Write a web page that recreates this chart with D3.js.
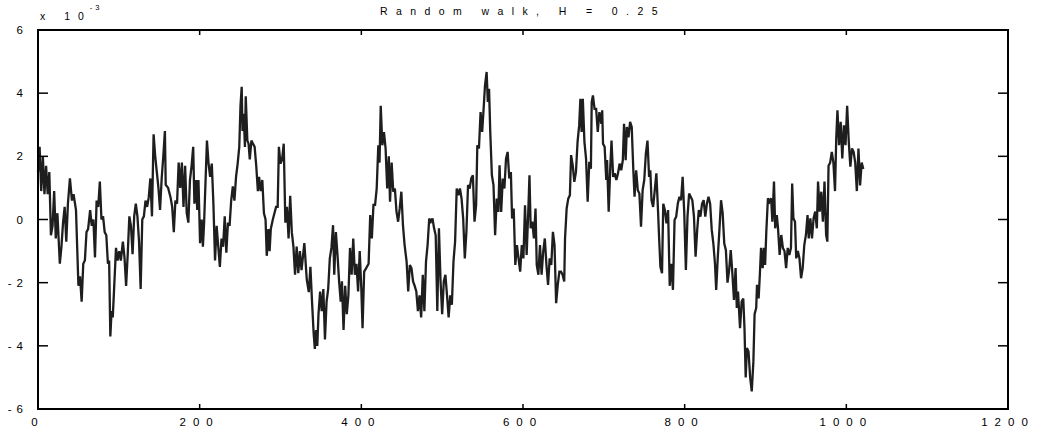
<!DOCTYPE html>
<html>
<head>
<meta charset="utf-8">
<script src="https://cdn.jsdelivr.net/npm/d3@7"></script>
<style>
  html, body { margin: 0; padding: 0; background: #fff; }
  text { font-family: "Liberation Sans", Arial, sans-serif; fill: #000; }
</style>
</head>
<body>
<div id="chart"></div>
<script>
// walk positions (step index) and values (x 10^-3)
const steps = [
  0, 2, 4, 6, 8, 10, 12, 14, 16, 18, 20, 22, 24, 27, 29, 31, 33, 35, 37, 39.5,
  42, 44, 47, 50, 52, 54, 56, 58, 60, 62, 64.5, 66.5, 68.5, 70.5, 72.5, 74.5, 76.5, 78.5, 80.5, 82.5,
  84.5, 86.5, 88, 89.5, 91, 92.5, 94.5, 96.5, 98.5, 100.5, 102.5, 105, 107, 109, 111, 113, 115, 117, 119, 121,
  123, 125, 127, 129, 131, 133, 135, 137, 139, 141, 143, 145, 147, 149, 151, 153, 155, 157, 158, 161,
  164, 166, 168, 170, 172, 174, 176, 178, 180, 182, 184, 186, 188, 190, 192, 193.5, 195.5, 197, 198.5, 200.5,
  202.5, 204, 205.5, 209, 211, 213, 215, 217, 219, 221, 223, 225, 227, 229, 231, 233, 235, 237, 239, 241,
  243, 245, 247, 249, 250.5, 252, 253, 254.5, 256, 257, 259, 260.5, 262, 264, 266, 268, 270, 272, 273.5, 275.5,
  277.5, 279.5, 281.5, 283, 285, 286.5, 288, 290.5, 292.5, 294.5, 296.5, 298, 300, 302, 304, 306, 308, 310, 312, 314,
  316, 318, 320, 322, 324, 326, 329.5, 332.5, 335, 337, 339, 341, 342.5, 344, 345.5, 347, 349, 351, 353, 355,
  357, 359, 361, 363, 365, 366.5, 368.5, 370.5, 372.5, 374.5, 376, 378, 380, 382, 384, 386, 388, 390, 392, 394,
  396, 398, 400, 401.5, 403.5, 406, 409, 411, 413, 415, 417, 419, 421, 422.5, 424, 426, 428, 430, 432, 434,
  435.5, 437.5, 439.5, 441.5, 443.5, 445.5, 447.5, 449.5, 451.5, 453.5, 456, 458, 460, 462, 464, 466, 468, 470, 472, 474,
  476, 478, 480, 482, 484, 486, 488, 490, 492, 494, 496, 498, 500, 502, 504, 506, 508, 510, 512, 514,
  516, 518, 520, 522, 524, 526, 528, 530, 532, 534, 536, 538, 540, 542, 543.5, 545.5, 547.5, 549.5, 551.5, 553,
  555, 556.5, 558, 559.5, 561.5, 563.5, 565.5, 567.5, 569.5, 571, 573, 575, 577, 579, 581, 583, 585, 586.5, 588.5, 590.5,
  592.5, 594.5, 596.5, 598.5, 600.5, 602.5, 604.5, 606.5, 608, 609.5, 611.5, 613.5, 615.5, 617, 619, 621, 623, 625, 627, 629,
  631, 633, 635, 637, 639, 641, 643, 645, 647, 649, 651, 652, 654, 656, 658, 659.5, 661.5, 663.5, 665.5, 667.5,
  669.5, 671, 672.5, 674, 676, 678, 680, 682, 684, 685, 686.5, 688.5, 690.5, 692.5, 694.5, 697, 698, 699, 701, 703,
  704, 706, 708, 709.5, 711.5, 713.5, 715.5, 717.5, 719.5, 721.5, 723.5, 725, 727, 728.5, 730.5, 732.5, 734.5, 736.5, 738, 740,
  742, 744, 746, 748, 750, 752, 754, 756, 757.5, 759, 761, 763, 765, 767, 768.5, 770, 772, 773.5, 775.5, 777.5,
  779.5, 781.5, 783.5, 785.5, 787.5, 789.5, 791.5, 793.5, 795.5, 797.5, 799.5, 801.5, 803.5, 805.5, 807.5, 809.5, 811.5, 813.5, 815.5, 817.5,
  819.5, 821.5, 823.5, 825.5, 827.5, 829.5, 831.5, 833.5, 835.5, 837.5, 839, 841, 843, 845, 847, 849, 851, 853, 855, 857,
  859, 861, 863, 864.5, 866, 868.5, 870.5, 872.5, 874, 875.5, 877, 879, 881, 883, 885, 886.5, 888.5, 889.5, 891.5, 893,
  894.5, 896.5, 898, 899.5, 901, 903, 905, 907, 908.5, 910.5, 912, 914, 915.5, 917.5, 919.5, 921.5, 923.5, 925.5, 927.5, 929.5,
  931.5, 933, 934.5, 936.5, 938, 940, 942, 944, 946, 948, 950, 952, 953.5, 955.5, 957.5, 959.5, 961.5, 963.5, 965, 967,
  969, 971, 973, 975, 976.5, 978, 980, 982, 984, 986, 987.5, 989, 991, 993, 995, 997, 999, 1001, 1003, 1005,
  1007, 1009, 1011, 1013, 1015, 1017, 1019, 1021
];
const walk = [
  1.5, 2.3, 0.9, 2.0, 0.8, 1.7, 0.8, 1.5, -0.5, -0.2, 0.9, -0.6, 0.2, -1.4, -0.86, -0.1, 0.4, -0.7, 0.5, 1.3,
  0.6, 0.8, 0.3, -2.1, -1.8, -2.6, -1.4, -1.3, -0.4, -0.3, 0.3, -0.2, 0, -1.2, 0.6, 0.4, 1.2, 0, 0.1, -0.4,
  -0.5, -1.4, -1.3, -3.7, -2.9, -3.1, -2.0, -0.9, -1.3, -1.0, -1.3, -0.7, -1.2, -2.1, -1.1, 0.1, -0.2, -1.1, 0.1, 0.5,
  0.1, -0.7, -2.2, 0, 0.1, 0.6, 0.4, 0.7, 1.3, 0.1, 2.7, 2.0, 1.5, 1.0, 0.3, 1.3, 2.0, 2.8, 1.1, 1.0,
  0.7, 0.4, -0.4, 0.6, 0.5, 1.8, 1.0, 1.8, 0.4, 1.7, 0.2, -0.1, 1.25, 1.7, 2.3, 0.5, 1.25, 0.3, 1.25, -0.75,
  0, -0.86, -0.1, 2.5, 1.77, 1.35, 1.77, 0.5, -1.3, -0.2, -0.86, -1.5, -0.6, -0.86, 0.1, -1.05, -0.1, -0.2, 0.6, 1.05,
  0.6, 1.35, 1.77, 2.3, 3.6, 4.2, 2.8, 3.35, 2.3, 3.9, 2.5, 2.4, 1.9, 2.5, 2.4, 2.3, 1.7, 0.9, 1.35, 0.9,
  1.25, 0.2, 0, -1.15, -0.3, -1.0, -0.3, 0, 0.2, 0.4, 0.4, 2.3, 1.77, 1.9, 2.4, -0.1, 0.4, -0.6, 0.75, -0.4,
  -0.86, -1.75, -0.86, -1.7, -1.0, -1.6, -0.75, -1.9, -2.3, -1.5, -2.6, -3.6, -4.1, -3.5, -4.0, -3.0, -2.28, -2.9, -2.2, -3.8,
  -2.6, -2.2, -1.23, -0.9, -0.18, -1.75, -0.4, -1.12, -1.96, -2.6, -1.96, -3.5, -2.1, -3.0, -2.4, -0.9, -1.75, -0.6, -1.75, -1.4,
  -2.28, -1.0, -2.2, -3.44, -1.65, -1.54, -1.4, 0.14, -0.6, 0.46, 0.46, 0.98, 2.35, 1.8, 3.6, 2.35, 2.77, 2.25, 0.98, 2.0,
  0.56, 1.8, 0.88, 0.98, 0.25, -0.07, 0.35, 0.88, -0.18, -0.8, -1.33, -2.28, -1.44, -1.54, -1.96, -2.1, -2.28, -2.9, -2.4, -3.1,
  -1.75, -2.9, -1.33, -0.8, 0.03, -0.07, 0.03, -0.28, -0.5, -2.9, -0.28, -1.96, -3.0, -1.96, -1.75, -2.4, -3.1, -2.4, -2.7, -1.33,
  -0.7, 0.98, 0.77, 0.98, 0.66, 0.03, -1.23, -0.39, 1.09, 0.98, 1.3, 1.4, -0.07, 0.45, 2.35, 2.25, 3.4, 2.77, 3.6, 4.25,
  4.67, 3.72, 4.14, 2.77, 1.4, 1.09, -0.5, 0.66, 0.24, 1.72, 0.24, 1.3, 0.98, 1.93, 2.14, 1.3, 1.5, 0.03, 0.35, -1.44,
  -0.81, -1.23, -1.65, -0.81, -1.23, 0.45, -1.12, 0.24, 1.4, -0.28, -0.07, -0.6, 0.35, -1.44, -1.75, -0.81, -1.75, -1.02, -0.6, -1.44,
  -2.07, -1.23, -1.44, -0.39, -0.81, -2.65, -2.07, -1.65, -1.65, -1.75, -1.96, -0.6, 0.35, 0.66, 0.77, 2.04, 1.72, 1.19, 1.5, 2.46,
  2.98, 3.82, 2.77, 3.82, 2.46, 1.93, 0.56, 1.83, 1.61, 3.72, 3.93, 3.5, 3.5, 2.77, 3.4, 3.03, 3.46, 2.4, 2.3, 1.25,
  1.88, 0.25, 1.67, 2.5, 1.35, 1.46, 1.25, 1.46, 1.77, 1.56, 1.88, 3.03, 1.88, 2.93, 2.6, 3.09, 2.93, 1.56, 0.72, 1.56,
  0.93, 0.82, -0.23, 0.93, 1.25, 2.09, 2.5, 1.35, 1.56, 0.61, 0.4, 0.93, 1.46, 0.3, -0.65, -1.5, -1.7, 0.5, 0.3, -0.12,
  0.3, -2.1, -1.4, -2.23, -0.02, 0.09, 0.5, 0.72, 0.61, 1.35, 0.2, -1.6, 0.09, 0.82, 0.72, 0.61, 0.09, -1.18, -0.33, 0.3,
  0.09, 0.5, 0.61, 0.09, 0.5, 0.72, 0.5, -0.33, -0.76, -1.4, -2.23, -1.18, -0.33, 0.61, 0.2, -0.76, -0.97, -2.0, -1.6, -0.97,
  -1.7, -2.55, -1.54, -2.8, -2.28, -3.44, -2.6, -2.5, -3.44, -5.0, -4.07, -4.18, -5.0, -5.44, -4.5, -3.0, -2.8, -2.07, -2.5, -1.75,
  -0.9, -1.54, -0.9, -1.44, -0.39, 0.67, 0.56, 0.67, -0.07, 1.2, -0.28, 0.14, -0.28, -1.12, -0.49, -0.9, -1.0, -1.54, -0.9, -1.12,
  -0.9, 1.14, 0.04, -0.07, -1.23, -1.0, -1.23, -1.86, -1.54, -0.8, -0.49, 0.14, -0.6, 0.04, -0.6, 0.04, 0.25, -0.28, 1.2, 0.25,
  0.88, -0.07, 1.2, -0.49, -0.7, 1.7, 1.8, 2.14, 1.8, 0.9, 2.56, 3.46, 2.35, 3.09, 1.93, 2.98, 2.35, 3.6, 2.46, 1.67,
  2.25, 2.14, 1.8, 0.9, 2.25, 1.08, 1.8, 1.6
];
const xTicks = [0, 200, 400, 600, 800, 1000, 1200];
const yTicks = [-6, -4, -2, 0, 2, 4, 6];
const title = 'Random walk, H = 0.25';

const width = 1042, height = 432;
const margin = { top: 30, right: 34, bottom: 23, left: 38 };

const svg = d3.select('#chart')
  .append('svg')
  .attr('width', width)
  .attr('height', height);

const x = d3.scaleLinear()
  .domain([0, 1200])
  .range([margin.left, width - margin.right]);
const y = d3.scaleLinear()
  .domain([-6, 6])
  .range([height - margin.bottom, margin.top]);

// the walk itself
const line = d3.line()
  .x(d => x(d[0]))
  .y(d => y(d[1]));

svg.append('path')
  .datum(d3.zip(steps, walk))
  .attr('d', line)
  .attr('fill', 'none')
  .attr('stroke', '#1e1e1e')
  .attr('stroke-width', 2.3)
  .attr('stroke-linejoin', 'miter')
  .attr('stroke-miterlimit', 3);

// frame
svg.append('rect')
  .attr('x', x(0))
  .attr('y', y(6))
  .attr('width', x(1200) - x(0))
  .attr('height', y(-6) - y(6))
  .attr('fill', 'none')
  .attr('stroke', '#000')
  .attr('stroke-width', 2);

// inward ticks on all four sides
const tickStyle = sel => sel.attr('stroke', '#000').attr('stroke-width', 1.5);

svg.append('g').selectAll('line')
  .data(xTicks)
  .enter()
  .append('line')
  .attr('x1', d => x(d)).attr('x2', d => x(d))
  .attr('y1', y(-6)).attr('y2', y(-6) - 5)
  .call(tickStyle);
svg.append('g').selectAll('line')
  .data(xTicks)
  .enter()
  .append('line')
  .attr('x1', d => x(d)).attr('x2', d => x(d))
  .attr('y1', y(6)).attr('y2', y(6) + 5)
  .call(tickStyle);
svg.append('g').selectAll('line')
  .data(yTicks)
  .enter()
  .append('line')
  .attr('x1', x(0)).attr('x2', x(0) + 10)
  .attr('y1', d => y(d)).attr('y2', d => y(d))
  .call(tickStyle);
svg.append('g').selectAll('line')
  .data(yTicks)
  .enter()
  .append('line')
  .attr('x1', x(1200)).attr('x2', x(1200) - 10)
  .attr('y1', d => y(d)).attr('y2', d => y(d))
  .call(tickStyle);

// tick labels, spaced out like the original
svg.append('g').selectAll('text')
  .data(xTicks)
  .enter()
  .append('text')
  .attr('x', d => x(d))
  .attr('y', height - 6)
  .attr('text-anchor', 'middle')
  .attr('font-size', 11.5)
  .attr('letter-spacing', 7)
  .text(d => d);

svg.append('g').selectAll('text')
  .data(yTicks)
  .enter()
  .append('text')
  .attr('x', 28)
  .attr('y', d => y(d))
  .attr('dy', '0.36em')
  .attr('text-anchor', 'end')
  .attr('font-size', 11.5)
  .attr('letter-spacing', 5)
  .text(d => d < 0 ? '-' + Math.abs(d) : d);

// exponent label
const expo = svg.append('text')
  .attr('x', 40)
  .attr('y', 20)
  .attr('font-size', 10.5)
  .attr('letter-spacing', 8);
expo.append('tspan').text('x 10');
expo.append('tspan')
  .attr('dy', -10)
  .attr('dx', -2)
  .attr('font-size', 7.5)
  .attr('letter-spacing', 3)
  .text('-3');

// title
svg.append('text')
  .attr('x', (x(0) + x(1200)) / 2)
  .attr('y', 15)
  .attr('text-anchor', 'middle')
  .attr('font-size', 10.5)
  .attr('letter-spacing', 8.4)
  .text(title);
</script>
</body>
</html>
